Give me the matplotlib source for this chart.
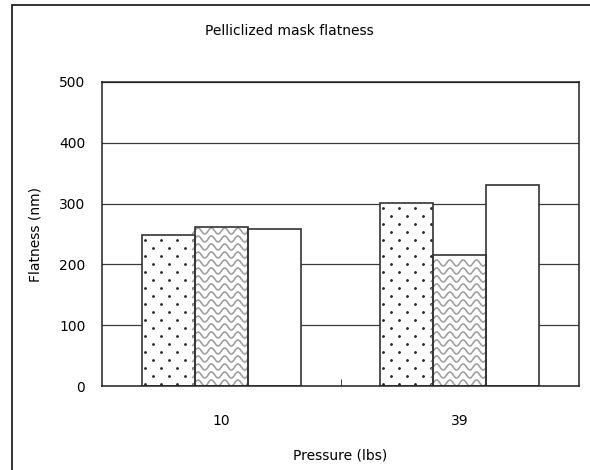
import numpy as np
import matplotlib.pyplot as plt
from matplotlib.patches import Rectangle
from matplotlib.lines import Line2D
from matplotlib.transforms import IdentityTransform

pressures = ['10', '39']
dotted = [248, 301]
wavy = [261, 216]
plain = [258, 330]
yticks = [0, 100, 200, 300, 400, 500]

plt.rcParams['font.family'] = 'DejaVu Sans'
plt.rcParams['font.size'] = 10

fig = plt.figure(figsize=(5.9, 4.7), dpi=100)
ax = fig.add_axes([102 / 590, 84 / 470, 477 / 590, 304 / 470])

x = np.arange(len(pressures))
w = 0.222
ax.set_xlim(-0.5, 1.5)
ax.set_ylim(0, 500)
ax.set_yticks(yticks)
ax.yaxis.grid(True, color='#3a3a3a', lw=0.9)
ax.set_axisbelow(True)

ec = '#333333'
b1 = ax.bar(x - w, dotted, w, color='white', edgecolor='none', zorder=1)
b2 = ax.bar(x, wavy, w, color='white', edgecolor='none', zorder=1)
b3 = ax.bar(x + w, plain, w, color='white', edgecolor=ec, lw=1.2, zorder=2)

# dotted fill pattern, staggered rows, clipped to each bar
for p in b1.patches:
    bb = p.get_window_extent()
    for i, yy in enumerate(np.arange(bb.y0 + 2, bb.y1, 8.0)):
        xs = np.arange(bb.x0 + 3 + 8 * (i % 2), bb.x1, 16.0)
        ln = Line2D(xs, np.full(len(xs), yy), transform=IdentityTransform(), ls='none',
                    marker='o', ms=2.0, mfc='#222222', mec='none', zorder=1.5)
        ln.set_clip_path(p)
        ax.add_artist(ln)

# wavy fill pattern, clipped to each bar
for p in b2.patches:
    bb = p.get_window_extent()
    xs = np.arange(bb.x0 - 2, bb.x1 + 2, 0.5)
    for yy in np.arange(bb.y0 + 3, bb.y1 - 1, 8.0):
        ys = yy + 3.0 * np.sin(2 * np.pi * (xs - bb.x0) / 13.3)
        ln = Line2D(xs, ys, transform=IdentityTransform(), color='#a0a0a0', lw=1.2,
                    zorder=1.5)
        ln.set_clip_path(p)
        ax.add_artist(ln)

ax.bar(x - w, dotted, w, fill=False, edgecolor=ec, lw=1.2, zorder=2)
ax.bar(x, wavy, w, fill=False, edgecolor=ec, lw=1.2, zorder=2)

for s in ax.spines.values():
    s.set_color('#222222')
    s.set_linewidth(1.1)

ax.set_xticks(x, pressures)
ax.set_xticks([0.5], minor=True)
ax.tick_params(axis='x', which='major', length=0, pad=20)
ax.tick_params(axis='x', which='minor', direction='in', length=5, color='#222222')
ax.tick_params(axis='y', length=0, pad=12)

ax.set_xlabel('Pressure (lbs)', labelpad=15)
ax.set_ylabel('Flatness (nm)', labelpad=12)
fig.text(289 / 590, 1 - 31 / 470, 'Pelliclized mask flatness', ha='center', va='center')

fig.add_artist(Rectangle((12 / 590, -0.1), 1.2, 1 - 5 / 470 + 0.1,
                         transform=fig.transFigure, fill=False, ec='#222222', lw=1.3))

fig.savefig('out.png', dpi=100)
